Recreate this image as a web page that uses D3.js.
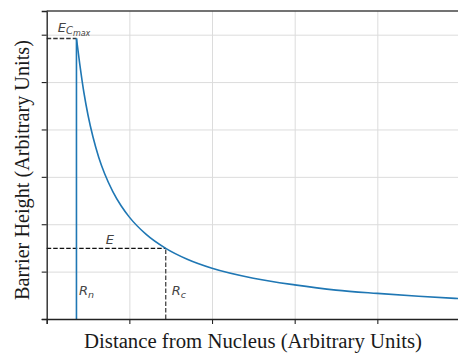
<!DOCTYPE html>
<html>
<head>
<meta charset="utf-8">
<script src="https://cdn.jsdelivr.net/npm/d3@7"></script>
<style>
  body { margin: 0; background: #fff; }
</style>
</head>
<body>
<div id="chart"></div>
<script>
/* Data (arbitrary units) */
const curveX = [0.36, 0.40, 0.45, 0.50, 0.56, 0.63, 0.70, 0.80, 0.90, 1.00, 1.20, 1.44, 1.70, 2.00, 2.50, 3.00, 3.50, 4.00, 4.50, 5.00];
const curveY = [5.92, 5.38, 4.78, 4.30, 3.84, 3.41, 3.07, 2.69, 2.39, 2.15, 1.79, 1.49, 1.26, 1.07, 0.86, 0.72, 0.61, 0.54, 0.48, 0.43];
const xTicks = [0, 1, 2, 3, 4, 5];
const yTicks = [0, 1, 2, 3, 4, 5, 6];
const nucleusR = 0.36;     // R_n
const barrierMax = 5.92;   // E_Cmax
const energyE = 1.49;      // E
const closestR = 1.44;     // R_c

/* Dimensions */
const W = 458, H = 360;
const margin = { top: 11, left: 46.7, bottom: 41 };
const plotW = 413.3;
const plotH = H - margin.top - margin.bottom;

const svg = d3.select("#chart").append("svg")
    .attr("width", W).attr("height", H);

const g = svg.append("g")
    .attr("transform", `translate(${margin.left},${margin.top})`);

const x = d3.scaleLinear().domain([0, 5]).range([0, plotW]);
const y = d3.scaleLinear().domain([0, 6.5]).range([plotH, 0]);

/* Gridlines */
g.append("g")
    .call(d3.axisLeft(y).tickValues(yTicks).tickSize(-plotW).tickFormat(""))
    .call(a => a.select(".domain").remove())
    .selectAll("line").style("stroke", "#dcdcdc").style("stroke-width", 1);
g.append("g")
    .attr("transform", `translate(0,${plotH})`)
    .call(d3.axisBottom(x).tickValues(xTicks).tickSize(-plotH).tickFormat(""))
    .call(a => a.select(".domain").remove())
    .selectAll("line").style("stroke", "#dcdcdc").style("stroke-width", 1);

/* Dashed guides */
const dash = "4.5 2";
g.append("line")
    .attr("x1", x(0)).attr("x2", x(nucleusR))
    .attr("y1", y(barrierMax)).attr("y2", y(barrierMax))
    .style("stroke", "#333").style("stroke-width", 1.3).style("stroke-dasharray", dash);
g.append("line")
    .attr("x1", x(0)).attr("x2", x(closestR))
    .attr("y1", y(energyE)).attr("y2", y(energyE))
    .style("stroke", "#111").style("stroke-width", 1.3).style("stroke-dasharray", dash);
g.append("line")
    .attr("x1", x(closestR)).attr("x2", x(closestR))
    .attr("y1", y(0)).attr("y2", y(energyE))
    .style("stroke", "#444").style("stroke-width", 1.3).style("stroke-dasharray", dash);

/* Barrier: wall at R_n then the falling curve */
const pts = curveX.map((d, i) => [d, curveY[i]]);
g.append("line")
    .attr("x1", x(nucleusR)).attr("x2", x(nucleusR))
    .attr("y1", y(0)).attr("y2", y(barrierMax))
    .style("stroke", "#1f77b4").style("stroke-width", 1.6);
g.append("path")
    .datum(pts)
    .attr("d", d3.line().x(d => x(d[0])).y(d => y(d[1])).curve(d3.curveMonotoneX))
    .style("fill", "none").style("stroke", "#1f77b4").style("stroke-width", 1.6);

/* Axes frame and ticks */
const axL = g.append("g").call(d3.axisLeft(y).tickValues(yTicks).tickSize(5).tickFormat(""));
const axB = g.append("g").attr("transform", `translate(0,${plotH})`)
    .call(d3.axisBottom(x).tickValues(xTicks).tickSize(5).tickFormat(""));
[axL, axB].forEach(a => {
    a.select(".domain").style("stroke", "#222").style("stroke-width", 1.3);
    a.selectAll(".tick line").style("stroke", "#222").style("stroke-width", 1.1);
});
g.append("line")
    .attr("x1", 0).attr("x2", plotW).attr("y1", 0).attr("y2", 0)
    .style("stroke", "#444").style("stroke-width", 1.3);
g.append("line")
    .attr("x1", plotW).attr("x2", plotW).attr("y1", 0).attr("y2", plotH)
    .style("stroke", "#444").style("stroke-width", 1.3);

/* Annotations */
const ann = g.append("g")
    .style("font-family", "'DejaVu Sans', sans-serif")
    .style("font-style", "italic")
    .style("font-size", "13px")
    .style("fill", "#444");

const ecm = ann.append("text").attr("x", x(0) + 11).attr("y", y(barrierMax) - 6);
ecm.append("tspan").text("E");
ecm.append("tspan").attr("dy", 2).style("font-size", "10px").text("C");
ecm.append("tspan").attr("dy", 1.5).style("font-size", "8px").text("max");

ann.append("text").attr("x", x(closestR) - 60).attr("y", y(energyE) - 4).text("E");

const rn = ann.append("text").attr("x", x(nucleusR) + 2.5).attr("y", y(0) - 24);
rn.append("tspan").text("R");
rn.append("tspan").attr("dy", 2.5).style("font-size", "9.5px").text("n");

const rc = ann.append("text").attr("x", x(closestR) + 6).attr("y", y(0) - 24);
rc.append("tspan").text("R");
rc.append("tspan").attr("dy", 2.5).style("font-size", "9.5px").text("c");

/* Axis titles */
function fitText(sel, width) {
    let fs = 18;
    sel.style("font-size", fs + "px");
    const len = sel.node().getComputedTextLength();
    sel.style("font-size", (fs * width / len).toFixed(2) + "px");
}

const xt = svg.append("text")
    .attr("x", 253).attr("y", 348)
    .attr("text-anchor", "middle")
    .style("font-family", "'Liberation Serif', serif")
    .style("fill", "#1a1a1a")
    .text("Distance from Nucleus (Arbitrary Units)");
fitText(xt, 338);

const yt = svg.append("text")
    .attr("transform", "translate(29,170) rotate(-90)")
    .attr("text-anchor", "middle")
    .style("font-family", "'Liberation Serif', serif")
    .style("fill", "#1a1a1a")
    .text("Barrier Height (Arbitrary Units)");
fitText(yt, 260);
</script>
</body>
</html>
